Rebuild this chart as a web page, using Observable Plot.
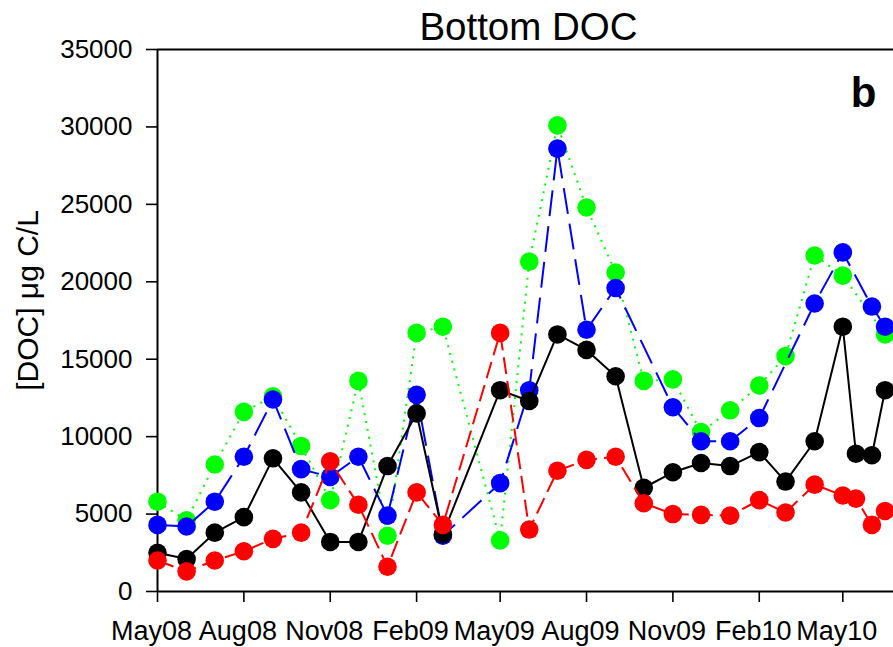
<!DOCTYPE html>
<html>
<head>
<meta charset="utf-8">
<script src="https://cdn.jsdelivr.net/npm/d3@7"></script>
<script src="https://cdn.jsdelivr.net/npm/@observablehq/plot@0.6"></script>
<style>
  html, body { margin: 0; padding: 0; background: #fff; }
  #chart svg { display: block; }
</style>
</head>
<body>
<div id="chart"></div>
<script>
// Sampling dates (roughly monthly, twice monthly at the end)
const sampleDates = [
  "2008-05-01", "2008-06-01", "2008-07-01", "2008-08-01", "2008-09-01", "2008-10-01",
  "2008-11-01", "2008-12-01", "2009-01-01", "2009-02-01", "2009-03-01", "2009-05-01",
  "2009-06-01", "2009-07-01", "2009-08-01", "2009-09-01", "2009-10-01", "2009-11-01",
  "2009-12-01", "2010-01-01", "2010-02-01", "2010-03-01", "2010-04-01", "2010-05-01",
  "2010-05-15", "2010-06-01", "2010-06-15"
];

// Bottom-water DOC (µg C/L) for each station; null = not sampled
const docBlack = [2500, 2100, 3800, 4800, 8600, 6400, 3200, 3200, 8100, 11500, 3700, 13000,
  12300, 16600, 15600, 13900, 6700, 7700, 8300, 8100, 9000, 7100, 9700, 17100, 8900, 8800, 13000];
const docRed = [2000, 1300, 2000, 2600, 3400, 3800, 8400, 5600, 1600, 6400, 4300, 16700,
  4000, 7800, 8500, 8700, 5700, 5000, 4950, 4900, 5900, 5100, 6900, 6200, 6000, 4300, 5200];
const docBlue = [4300, 4200, 5800, 8700, 12400, 7900, 7400, 8700, 4900, 12700, 3600, 7000,
  13000, 28600, 16900, 19600, null, 11900, 9700, 9700, 11200, null, 18600, 21900, null, 18400, 17100];
const docGreen = [5800, 4600, 8200, 11600, 12600, 9400, 5900, 13600, 3600, 16700, 17100, 3300,
  21300, 30100, 24800, 20600, 13600, 13700, 10300, 11700, 13300, 15200, 21700, 20400, null, null, 16600];

// Axis ticks
const yTicks = [0, 5000, 10000, 15000, 20000, 25000, 30000, 35000];
const tickDates = ["2008-05-01", "2008-08-01", "2008-11-01", "2009-02-01", "2009-05-01",
  "2009-08-01", "2009-11-01", "2010-02-01", "2010-05-01"];
const tickLabels = ["May08", "Aug08", "Nov08", "Feb09", "May09", "Aug09", "Nov09", "Feb10", "May10"];

const parse = d3.utcParse("%Y-%m-%d");
const xStart = parse("2008-05-01");
const xEnd = parse("2010-06-24");
const tickDateObjs = tickDates.map(parse);
const labelFor = new Map(tickDateObjs.map((d, i) => [+d, tickLabels[i]]));

const rows = (values) => sampleDates
  .map((d, i) => ({date: parse(d), value: values[i]}))
  .filter((r) => r.value != null);

// Drawn bottom to top: green, blue, black, red
const series = [
  {values: docGreen, color: "#00ff00", dash: "2,6"},
  {values: docBlue, color: "#0000ff", dash: "26,10"},
  {values: docBlack, color: "#000000", dash: null},
  {values: docRed, color: "#ff0000", dash: "17,7"}
];

const font = "'Liberation Sans', Arial, Helvetica, sans-serif";

const seriesMarks = series.flatMap((s) => {
  const data = rows(s.values);
  return [
    Plot.line(data, {x: "date", y: "value", stroke: s.color, strokeWidth: 2,
      strokeDasharray: s.dash ?? undefined, strokeLinecap: "butt"}),
    Plot.dot(data, {x: "date", y: "value", r: 9.3, fill: s.color, stroke: "none"})
  ];
});

const chart = Plot.plot({
  width: 893,
  height: 647,
  marginLeft: 157,
  marginRight: 0,
  marginTop: 49,
  marginBottom: 56,
  style: {fontFamily: font, color: "#000", background: "#fff", overflow: "hidden"},
  x: {type: "utc", domain: [xStart, xEnd]},
  y: {domain: [0, 35000]},
  marks: [
    Plot.ruleY([0, 35000], {stroke: "#000", strokeWidth: 2}),
    Plot.ruleX([xStart], {stroke: "#000", strokeWidth: 2}),
    Plot.axisY({ticks: yTicks, tickSize: 11, tickPadding: 14, fontSize: 26,
      strokeWidth: 1.6, tickFormat: (d) => String(d), label: null}),
    // x tick marks
    Plot.axisX({ticks: tickDateObjs, tickSize: 11, strokeWidth: 1.6,
      tickFormat: () => "", label: null}),
    // x tick labels, set slightly left of their ticks
    Plot.axisX({ticks: tickDateObjs, tickSize: 0, tickPadding: 29, fontSize: 27,
      dx: -6, tickFormat: (d) => labelFor.get(+d), label: null}),
    ...seriesMarks,
    Plot.text(["Bottom DOC"], {frameAnchor: "top", lineAnchor: "bottom", dx: 3, dy: -10,
      fontSize: 38.5, fill: "#000"}),
    Plot.text(["b"], {frameAnchor: "top-right", lineAnchor: "bottom", textAnchor: "middle",
      dx: -30, dy: 57, fontSize: 42, fontWeight: "bold", fill: "#000"}),
    Plot.text(["[DOC] μg C/L"], {frameAnchor: "left", textAnchor: "middle", rotate: -90,
      dx: -129, dy: -20, fontSize: 30, fill: "#000"})
  ]
});

document.getElementById("chart").appendChild(chart);
</script>
</body>
</html>
